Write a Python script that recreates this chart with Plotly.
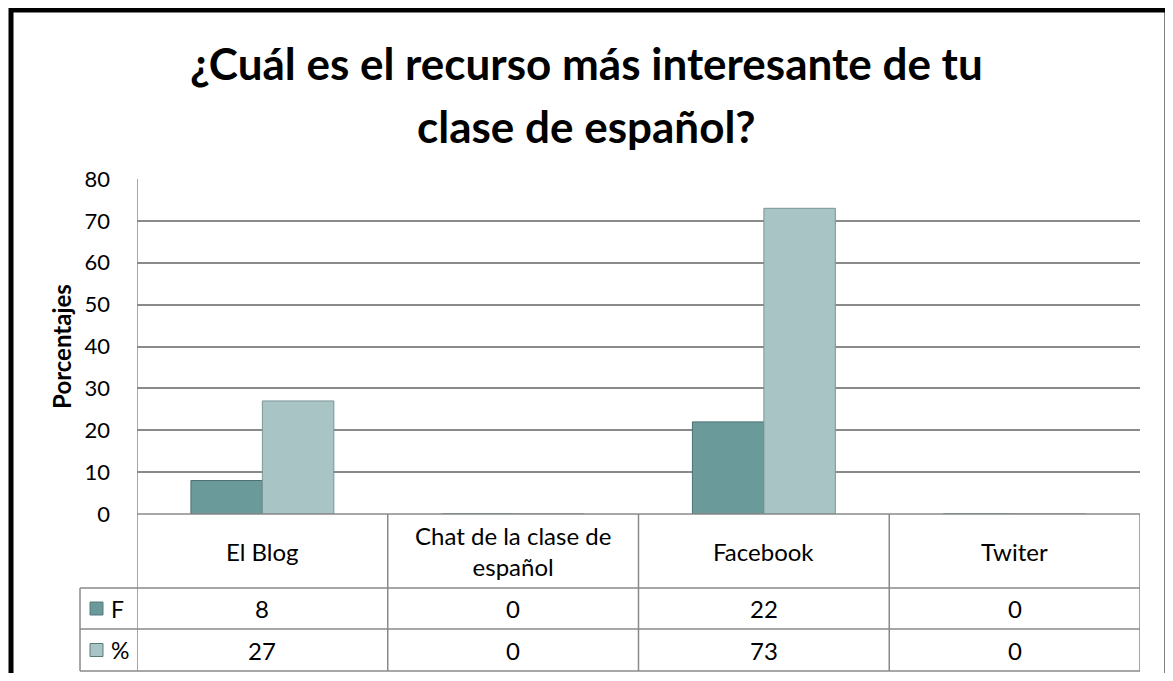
import plotly.graph_objects as go

# ---- data ----
categories = ["El Blog", "Chat de la clase de español", "Facebook", "Twiter"]
header_labels = ["El Blog", "Chat de la clase de<br>español", "Facebook", "Twiter"]
series_names = ["F", "%"]
values_f = [8, 0, 22, 0]
values_pct = [27, 0, 73, 0]
y_ticks = [0, 10, 20, 30, 40, 50, 60, 70, 80]
title_lines = ["¿Cuál es el recurso más interesante de tu", "clase de español?"]
y_title = "Porcentajes"

OFF = 8  # page body margin
W, H = 1173 - 2 * OFF, 681 - 2 * OFF
def xp(px):
    return (px - OFF) / W
def yp(py):
    return 1 - (py - OFF) / H

FONT = "Lato"
col_f = "#6b9a9a"
col_p = "#a8c4c4"
line_col = "#8a8a8a"

fig = go.Figure()
fig.add_trace(go.Bar(x=categories, y=values_f, name=series_names[0],
                     marker=dict(color=col_f, line=dict(color="#4d7070", width=1))))
fig.add_trace(go.Bar(x=categories, y=values_pct, name=series_names[1],
                     marker=dict(color=col_p, line=dict(color="#7a9595", width=1))))

plot_top, plot_bot = 179, 514
row_lines = [514, 588, 629, 671]
left_px = 80

fig.update_layout(
    width=W, height=H,
    margin=dict(l=0, r=0, t=0, b=0, autoexpand=False),
    paper_bgcolor="white", plot_bgcolor="white",
    showlegend=False,
    barmode="group", bargap=0.43, bargroupgap=0,
    font=dict(family=FONT, color="black"),
    xaxis=dict(domain=[xp(137), xp(1140)], range=[-0.5, 3.5],
               showticklabels=False, showgrid=False, zeroline=False,
               showline=False, type="category", fixedrange=True, automargin=False),
    yaxis=dict(domain=[yp(plot_bot), yp(plot_top)], range=[0, 80],
               tickvals=y_ticks, showgrid=True, gridcolor=line_col, gridwidth=1.5,
               zeroline=False, showline=False, ticks="", ticklabelstandoff=26,
               automargin=False,
               tickfont=dict(size=22, family=FONT, color="black"),
               title=dict(text="<b>" + y_title + "</b>", standoff=6,
                          font=dict(size=24, family=FONT, color="black"))),
)

shapes = []
# outer black frame
shapes.append(dict(type="rect", xref="paper", yref="paper",
                   x0=xp(11), x1=xp(1167), y0=-0.1, y1=yp(10),
                   line=dict(color="black", width=5), fillcolor="rgba(0,0,0,0)"))
# vertical axis line at plot left, down through table
shapes.append(dict(type="line", xref="x", yref="paper", x0=-0.5, x1=-0.5,
                   y0=yp(row_lines[-1]), y1=yp(plot_top), line=dict(color=line_col, width=1.5)))
# horizontal table lines
shapes.append(dict(type="line", xref="x", yref="paper", x0=-0.5, x1=3.5,
                   y0=yp(row_lines[0]), y1=yp(row_lines[0]), line=dict(color=line_col, width=1.5)))
for r in row_lines[1:]:
    shapes.append(dict(type="line", xref="paper", yref="paper", x0=xp(left_px), x1=xp(1140),
                       y0=yp(r), y1=yp(r), line=dict(color=line_col, width=1.5)))
# vertical column lines in table
for i in range(len(categories)):
    xb = i + 0.5
    shapes.append(dict(type="line", xref="x", yref="paper", x0=xb, x1=xb,
                       y0=yp(row_lines[-1]), y1=yp(row_lines[0]), line=dict(color=line_col, width=1.5)))
# left edge of legend column
shapes.append(dict(type="line", xref="paper", yref="paper", x0=xp(left_px), x1=xp(left_px),
                   y0=yp(row_lines[-1]), y1=yp(row_lines[1]), line=dict(color=line_col, width=1.5)))

annotations = []
# title
for i, t in enumerate(title_lines):
    annotations.append(dict(text="<b>" + t + "</b>", xref="paper", yref="paper",
                            x=xp(586), y=yp(63 + 63 * i), showarrow=False,
                            xanchor="center", yanchor="middle",
                            font=dict(size=44, family=FONT, color="black")))
# header row
hdr_c = (row_lines[0] + row_lines[1]) / 2
for i, lab in enumerate(header_labels):
    annotations.append(dict(text=lab, xref="x", yref="paper", x=i, y=yp(hdr_c),
                            showarrow=False, xanchor="center", yanchor="middle",
                            font=dict(size=24, family=FONT, color="black")))
# data rows
rows = [values_f, values_pct]
colors = [col_f, col_p]
for r, (vals, name, c) in enumerate(zip(rows, series_names, colors)):
    cy = (row_lines[r + 1] + row_lines[r + 2]) / 2
    for i, v in enumerate(vals):
        annotations.append(dict(text=str(v), xref="x", yref="paper", x=i, y=yp(cy),
                                showarrow=False, xanchor="center", yanchor="middle",
                                font=dict(size=24, family=FONT, color="black")))
    annotations.append(dict(text=name, xref="paper", yref="paper", x=xp(109), y=yp(cy),
                            showarrow=False, xanchor="left", yanchor="middle",
                            font=dict(size=23, family=FONT, color="black")))
    shapes.append(dict(type="rect", xref="paper", yref="paper",
                       x0=xp(90), x1=xp(103), y0=yp(cy + 6.5), y1=yp(cy - 6.5),
                       fillcolor=c, line=dict(color="#5a7a7a", width=1)))

fig.update_layout(shapes=shapes, annotations=annotations)
fig.write_html("out.html")
